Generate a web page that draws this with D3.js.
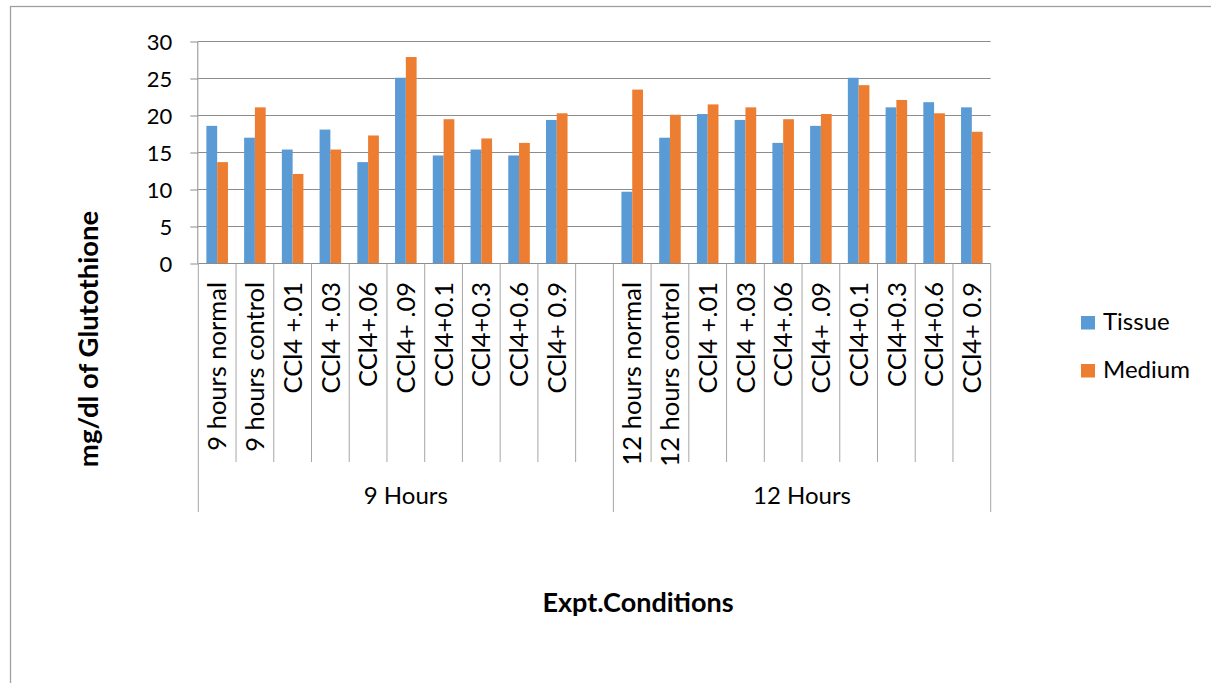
<!DOCTYPE html>
<html>
<head>
<meta charset="utf-8">
<script src="https://cdn.jsdelivr.net/npm/d3@7"></script>
<style>
  html, body { margin: 0; padding: 0; background: #fff; }
  svg { display: block; font-family: Lato, "Open Sans", sans-serif; }
</style>
</head>
<body>
<svg id="chart" width="1211" height="683"></svg>
<script>
// ---- data ----
const categories = [
  "9 hours normal", "9 hours control", "CCl4 +.01", "CCl4 +.03", "CCl4+.06", "CCl4+ .09",
  "CCl4+0.1", "CCl4+0.3", "CCl4+0.6", "CCl4+ 0.9", "",
  "12 hours normal", "12 hours control", "CCl4 +.01", "CCl4 +.03", "CCl4+.06", "CCl4+ .09",
  "CCl4+0.1", "CCl4+0.3", "CCl4+0.6", "CCl4+ 0.9"
];
const tissue = [18.6, 17.0, 15.4, 18.1, 13.7, 25.1, 14.6, 15.4, 14.6, 19.4, null,
                9.7, 17.0, 20.2, 19.4, 16.3, 18.6, 25.1, 21.1, 21.8, 21.1];
const medium = [13.7, 21.1, 12.1, 15.4, 17.3, 27.9, 19.5, 16.9, 16.3, 20.3, null,
                23.5, 20.1, 21.5, 21.1, 19.5, 20.2, 24.1, 22.1, 20.3, 17.8];
const groupLabels = ["9 Hours", "12 Hours"];
const groupSizes = [11, 10];
const seriesNames = ["Tissue", "Medium"];
const seriesColors = ["#5B9BD5", "#ED7D31"];
const yTicks = [0, 5, 10, 15, 20, 25, 30];
const yTitle = "mg/dl of Glutothione";
const xTitle = "Expt.Conditions";

// ---- layout ----
const svg = d3.select("#chart");
const pLeft = 198.3, pRight = 990.7, pTop = 41.5, pBottom = 263.5;

// chart border
svg.append("rect").attr("x", 10.5).attr("y", 6.5).attr("width", 1400).attr("height", 900)
  .attr("fill", "none").attr("stroke", "#a0a0a0").attr("stroke-width", 1.3);

const idx = d3.range(categories.length);
const x = d3.scaleBand().domain(idx).range([pLeft, pRight]).paddingInner(0).paddingOuter(0);
const x1 = d3.scaleBand().domain(seriesNames).range([0, x.bandwidth()]).paddingInner(0).paddingOuter(0.75);
const y = d3.scaleLinear().domain([0, 30]).range([pBottom, pTop]);

// gridlines
svg.append("g").selectAll("line").data(yTicks.filter(d => d > 0)).join("line")
  .attr("x1", pLeft).attr("x2", pRight)
  .attr("y1", d => y(d)).attr("y2", d => y(d))
  .attr("stroke", "#8c8c8c").attr("stroke-width", 1);

// bars
const rows = idx.map(i => ({i, vals: [tissue[i], medium[i]]}));
const bg = svg.append("g");
rows.forEach(r => {
  r.vals.forEach((v, k) => {
    if (v == null) return;
    bg.append("rect")
      .attr("x", x(r.i) + x1(seriesNames[k]))
      .attr("width", x1.bandwidth())
      .attr("y", y(v))
      .attr("height", y(0) - y(v))
      .attr("fill", seriesColors[k]);
  });
});

// y axis
const yAxis = svg.append("g").attr("transform", `translate(${pLeft},0)`)
  .call(d3.axisLeft(y).tickValues(yTicks).tickSize(8).tickPadding(18).tickFormat(d3.format("d")));
yAxis.select(".domain").attr("stroke", "#8c8c8c").attr("d", `M-0.5,${pTop}V${pBottom}`);
yAxis.selectAll(".tick line").attr("stroke", "#8c8c8c");
yAxis.selectAll(".tick text").attr("font-size", 22).attr("fill", "#000")
  .attr("font-family", "Lato, sans-serif").attr("dy", "0.36em");

// x axis line
svg.append("line").attr("x1", pLeft).attr("x2", pRight).attr("y1", pBottom).attr("y2", pBottom)
  .attr("stroke", "#8c8c8c");

// category separators
const groupStarts = [0];
groupSizes.forEach((s, g) => groupStarts.push(groupStarts[g] + s));
const sepIdx = idx.filter(i => !groupStarts.includes(i));
svg.append("g").selectAll("line").data(sepIdx).join("line")
  .attr("x1", d => x(d)).attr("x2", d => x(d))
  .attr("y1", pBottom).attr("y2", 462)
  .attr("stroke", "#a6a6a6");
// group separators
svg.append("g").selectAll("line").data(groupStarts).join("line")
  .attr("x1", d => d < categories.length ? x(d) : pRight)
  .attr("x2", d => d < categories.length ? x(d) : pRight)
  .attr("y1", pBottom).attr("y2", 512)
  .attr("stroke", "#a6a6a6");

// category labels
svg.append("g").selectAll("text").data(idx).join("text")
  .attr("transform", d => `translate(${x(d) + x.bandwidth() / 2},282) rotate(-90)`)
  .attr("text-anchor", "end").attr("dy", "0.36em")
  .attr("font-size", 25.5).attr("fill", "#000")
  .text(d => categories[d]);

// group labels
svg.append("g").selectAll("text").data(groupLabels).join("text")
  .attr("x", (d, g) => {
    const a = x(groupStarts[g]);
    const b = groupStarts[g + 1] < categories.length ? x(groupStarts[g + 1]) : pRight;
    return (a + b) / 2;
  })
  .attr("y", 504).attr("text-anchor", "middle")
  .attr("font-size", 24).attr("fill", "#000")
  .text(d => d);

// axis titles
svg.append("text").attr("x", 638).attr("y", 611.5).attr("text-anchor", "middle")
  .attr("font-size", 27).attr("font-weight", "bold").attr("fill", "#000")
  .text(xTitle);
svg.append("text").attr("transform", "translate(98,339) rotate(-90)")
  .attr("text-anchor", "middle")
  .attr("font-size", 27.5).attr("font-weight", "bold").attr("fill", "#000")
  .text(yTitle);

// legend
const lg = svg.append("g");
seriesNames.forEach((n, k) => {
  const yy = 316 + k * 48;
  lg.append("rect").attr("x", 1081).attr("y", yy).attr("width", 14).attr("height", 13.5)
    .attr("fill", seriesColors[k]);
  lg.append("text").attr("x", 1103).attr("y", yy + 14).attr("font-size", 24).attr("fill", "#000")
    .text(n);
});
</script>
</body>
</html>
